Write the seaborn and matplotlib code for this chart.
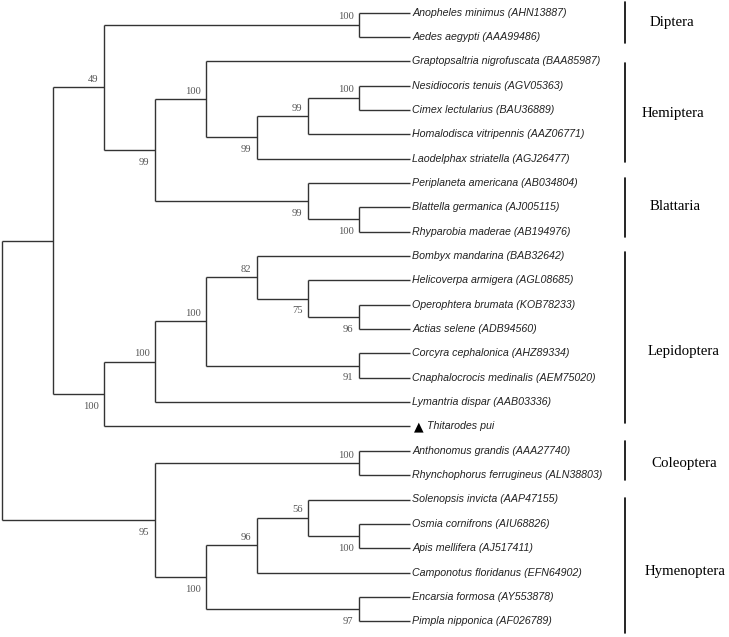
import numpy as np
import pandas as pd
import matplotlib
matplotlib.use('Agg')
import matplotlib.pyplot as plt
import seaborn as sns

# leaves, top to bottom
leaves = ['Anopheles minimus (AHN13887)', 'Aedes aegypti (AAA99486)',
          'Graptopsaltria nigrofuscata (BAA85987)', 'Nesidiocoris tenuis (AGV05363)',
          'Cimex lectularius (BAU36889)', 'Homalodisca vitripennis (AAZ06771)',
          'Laodelphax striatella (AGJ26477)', 'Periplaneta americana (AB034804)',
          'Blattella germanica (AJ005115)', 'Rhyparobia maderae (AB194976)',
          'Bombyx mandarina (BAB32642)', 'Helicoverpa armigera (AGL08685)',
          'Operophtera brumata (KOB78233)', 'Actias selene (ADB94560)',
          'Corcyra cephalonica (AHZ89334)', 'Cnaphalocrocis medinalis (AEM75020)',
          'Lymantria dispar (AAB03336)', 'Thitarodes pui',
          'Anthonomus grandis (AAA27740)', 'Rhynchophorus ferrugineus (ALN38803)',
          'Solenopsis invicta (AAP47155)', 'Osmia cornifrons (AIU68826)',
          'Apis mellifera (AJ517411)', 'Camponotus floridanus (EFN64902)',
          'Encarsia formosa (AY553878)', 'Pimpla nipponica (AF026789)']
leaf_depth = 8
marked_leaf = 'Thitarodes pui'

# internal nodes (children: ints = leaf index, str = node name)
node_names = ['root', 'n1', 'n49', 'nDip', 'n99a', 'nHem', 'n99b', 'n99c', 'n100d',
              'nBla', 'n100e', 'nL', 'nL2', 'nL3', 'n82', 'n75', 'n96a', 'n91',
              'n95', 'nCol', 'nHy', 'n96b', 'n56', 'n100f', 'n97']
node_depth = [0, 1, 2, 7, 3, 4, 5, 6, 7, 6, 7, 2, 3, 4, 5, 6, 7, 7, 3, 7, 4, 5, 6, 7, 7]
node_children = [['n1', 'n95'], ['n49', 'nL'], ['nDip', 'n99a'], [0, 1],
                 ['nHem', 'nBla'], [2, 'n99b'], ['n99c', 6], ['n100d', 5], [3, 4],
                 [7, 'n100e'], [8, 9], ['nL2', 17], ['nL3', 16], ['n82', 'n91'],
                 [10, 'n75'], [11, 'n96a'], [12, 13], [14, 15],
                 ['nCol', 'nHy'], [18, 19], ['n96b', 'n97'], ['n56', 23],
                 [20, 'n100f'], [21, 22], [24, 25]]
node_support = [None, None, 49, 100, 99, 100, 99, 99, 100, 99, 100, 100, 100, 100,
                82, 75, 96, 91, 95, 100, 100, 96, 56, 100, 97]

# clade brackets (in leaf units)
clade_names = ['Diptera', 'Hemiptera', 'Blattaria', 'Lepidoptera', 'Coleoptera', 'Hymenoptera']
clade_start = [-0.43, 2.07, 6.8, 9.82, 17.59, 19.93]
clade_end = [1.25, 6.14, 9.21, 16.85, 19.2, 25.48]
clade_label_y = [0.42, 4.14, 7.98, 13.93, 18.51, 22.97]
clade_label_x = [12.706, 12.549, 12.706, 12.667, 12.725, 12.608]
bracket_x = 12.225

sns.set_style('white')

depth = dict(zip(node_names, node_depth))
children = dict(zip(node_names, node_children))
support = dict(zip(node_names, node_support))


def pos(c):
    if isinstance(c, int):
        return leaf_depth, float(c)
    ys = [pos(k)[1] for k in children[c]]
    return depth[c], (min(ys) + max(ys)) / 2


fig = plt.figure(figsize=(7.29, 6.37), dpi=100)
ax = fig.add_axes([0, 0, 1, 1])
ax.set_xlim(-2 / 51, 727 / 51)
ax.set_ylim((637 - 12.5) / 24.35, -12.5 / 24.35)
ax.axis('off')

line_kw = dict(color='#333333', lw=1.0, solid_capstyle='butt')
for name in node_names:
    x0, _ = pos(name)
    ys = [pos(c)[1] for c in children[name]]
    ax.plot([x0, x0], [min(ys), max(ys)], **line_kw)
    for k, c in enumerate(children[name]):
        cx, cy = pos(c)
        ax.plot([x0, cx], [cy, cy], **line_kw)
        if not isinstance(c, int) and support[c] is not None:
            dy = 5.6 if k == 0 else -8.8
            ax.annotate(str(support[c]), (cx, cy), xytext=(-4, dy),
                        textcoords='offset points', ha='right', va='center',
                        fontsize=7.6, family='Liberation Serif', color='#555555')

for i, name in enumerate(leaves):
    off = 1.5
    if name == marked_leaf:
        ax.annotate('▲', (leaf_depth, i), xytext=(2.5, 0), textcoords='offset points',
                    ha='left', va='center', fontsize=9, family='DejaVu Sans', color='black')
        off = 12
    ax.annotate(name, (leaf_depth, i), xytext=(off, 0), textcoords='offset points',
                ha='left', va='center', fontsize=7.7, family='Liberation Sans',
                style='italic', color='#222222')

for nm, s, e, ly, lx in zip(clade_names, clade_start, clade_end, clade_label_y, clade_label_x):
    ax.plot([bracket_x, bracket_x], [s, e], color='black', lw=1.2)
    ax.text(lx, ly, nm, ha='left', va='center', fontsize=10.7,
            family='Liberation Serif', color='black')

fig.savefig('out.png', dpi=100)
